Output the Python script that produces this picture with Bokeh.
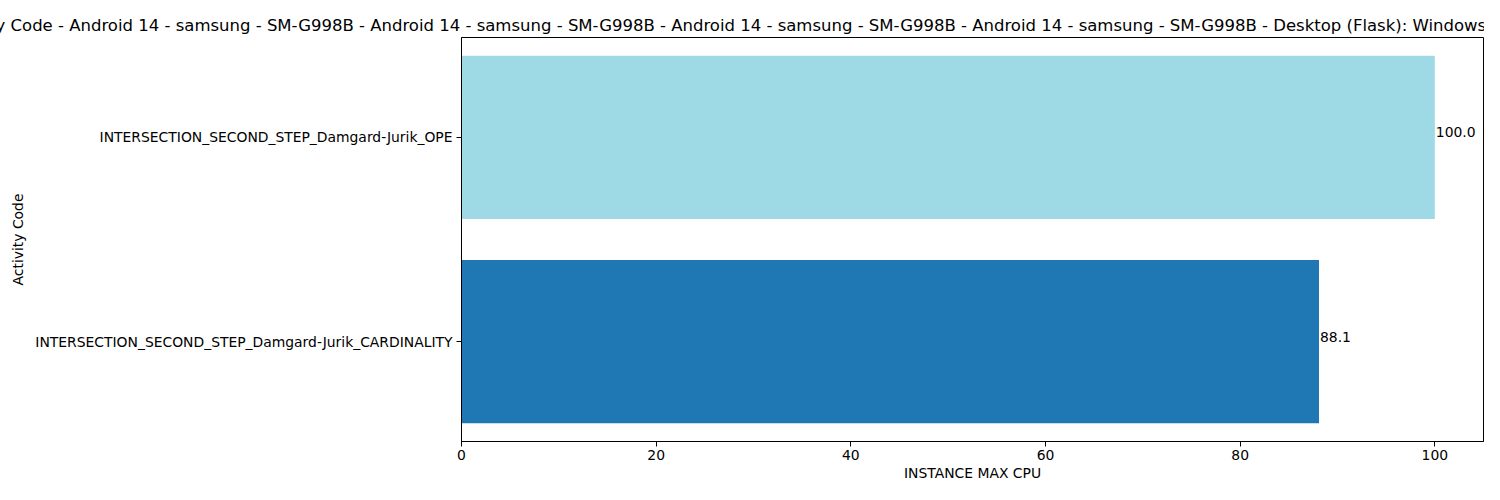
from bokeh.plotting import figure
from bokeh.models import Range1d, FixedTicker, ColumnDataSource, Title
from bokeh.core.properties import value
from bokeh.embed import file_html
from bokeh.resources import INLINE

categories = [
    "INTERSECTION_SECOND_STEP_Damgard-Jurik_CARDINALITY",
    "INTERSECTION_SECOND_STEP_Damgard-Jurik_OPE",
]
values = [88.1, 100.0]
bar_colors = ["#1f77b4", "#9edae5"]
value_labels = ["88.1", "100.0"]
x_ticks = [0, 20, 40, 60, 80, 100]
title_text = ("y Code - Android 14 - samsung - SM-G998B - Android 14 - samsung - SM-G998B - "
              "Android 14 - samsung - SM-G998B - Android 14 - samsung - SM-G998B - Desktop (Flask): Windows-")
x_label = "INSTANCE MAX CPU"
y_label = "Activity Code"

FONT = "DejaVu Sans"
FS = "13.9px"

src = ColumnDataSource(dict(
    y=list(range(len(categories))),
    v=values,
    c=bar_colors,
    lab=value_labels,
))

p = figure(
    width=1484, height=484,
    output_backend="svg", toolbar_location=None,
    x_range=Range1d(0, 105), y_range=Range1d(-0.49, 1.49),
    min_border_left=461, min_border_right=1,
    min_border_top=37, min_border_bottom=43,
    title=None,
)
p.background_fill_color = "white"
p.border_fill_color = "white"
p.outline_line_color = "black"
p.outline_line_width = 1
p.grid.visible = False

t = Title(text=title_text, align="left", offset=-466, standoff=6,
          text_font=FONT, text_font_size="16.5px", text_font_style="normal",
          text_color="black")
p.add_layout(t, "above")

p.hbar(y="y", left=0, right="v", height=0.8, fill_color="c", line_color=None, source=src)
p.text(x="v", y="y", text="lab", source=src, text_align="left", text_baseline="alphabetic",
       x_offset=1, y_offset=-5, text_font=value(FONT), text_font_size=FS, text_color="black")

xa = p.xaxis[0]
xa.ticker = FixedTicker(ticks=x_ticks)
xa.axis_label = x_label
ya = p.yaxis[0]
ya.ticker = FixedTicker(ticks=list(range(len(categories))))
ya.major_label_overrides = {i: c for i, c in enumerate(categories)}
ya.axis_label = y_label

for ax in (xa, ya):
    ax.axis_line_color = "black"
    ax.axis_line_width = 1
    ax.major_tick_line_color = "black"
    ax.major_tick_in = 0
    ax.major_tick_out = 5
    ax.minor_tick_line_color = None
    ax.major_label_text_font = FONT
    ax.major_label_text_font_size = FS
    ax.major_label_text_color = "black"
    ax.axis_label_text_font = FONT
    ax.axis_label_text_font_size = FS
    ax.axis_label_text_font_style = "normal"
    ax.axis_label_text_color = "black"

xa.major_label_standoff = 3
xa.axis_label_standoff = 2
ya.major_label_standoff = 4
ya.axis_label_standoff = 6

open("out.html", "w").write(file_html(p, INLINE))
